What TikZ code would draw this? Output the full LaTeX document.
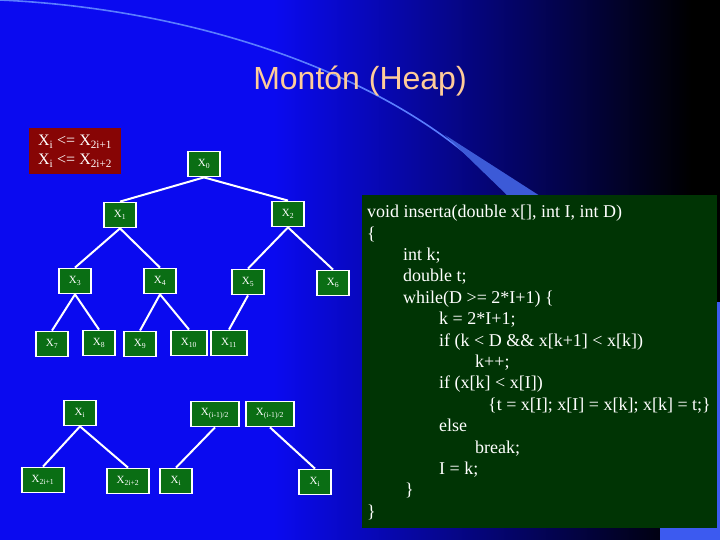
\documentclass[tikz,border=0pt]{standalone}
\usepackage{fontspec}
\setmainfont{Liberation Serif}
\newfontfamily\titlefont{Liberation Sans}
\definecolor{bgblue}{RGB}{10,10,240}
\definecolor{swoosh}{RGB}{90,125,255}
\definecolor{wedge}{RGB}{60,90,215}
\definecolor{heapgreen}{RGB}{10,110,20}
\definecolor{codegreen}{RGB}{0,52,4}
\definecolor{rulered}{RGB}{135,5,5}
\definecolor{titlepeach}{RGB}{255,204,153}
\definecolor{edgeblue}{RGB}{60,90,240}
\pgfdeclarehorizontalshading{slidebg}{100bp}{color(0bp)=(bgblue); color(25bp)=(bgblue); color(44bp)=(bgblue); color(73bp)=(black); color(100bp)=(black)}
\tikzset{
  heapnode/.style={draw=white,line width=1.8pt,fill=heapgreen,text=white,
    minimum width=32pt,minimum height=25pt,inner xsep=10pt,inner ysep=2pt,
    font=\fontsize{11}{13}\selectfont},
  heapedge/.style={white,line width=2pt}
}
\begin{document}
\begin{tikzpicture}[x=1pt,y=-1pt]
        \useasboundingbox (0,0) rectangle (720,540);
        \fill[shading=slidebg] (0,0) rectangle (720,540);
        \fill[edgeblue] (660,302) rectangle (720,540);
        \draw[swoosh,line width=1.6pt] (0,0) .. controls (220,10) and (420,90) .. (510,197);
        \fill[wedge] (445,135) -- (540,196) -- (508,196) -- cycle;

        \node[text=titlepeach,font=\titlefont\fontsize{32}{38}\selectfont] (title) at (360,81) {Montón (Heap)};

        \node[fill=rulered,text=white,minimum width=92pt,minimum height=46pt,align=left,
              font=\fontsize{16}{19}\selectfont] (rule) at (75,151)
              {X\textsubscript{i} <= X\textsubscript{2i+1}\\X\textsubscript{i} <= X\textsubscript{2i+2}};

        \node[heapnode] (x0) at (204,164) {X\textsubscript{0}};
        \node[heapnode] (x1) at (120,215) {X\textsubscript{1}};
        \node[heapnode] (x2) at (288,214) {X\textsubscript{2}};

        \node[heapnode] (x3) at (75,281) {X\textsubscript{3}};
        \node[heapnode] (x4) at (160,281) {X\textsubscript{4}};
        \node[heapnode] (x5) at (248,282) {X\textsubscript{5}};
        \node[heapnode] (x6) at (333,283) {X\textsubscript{6}};

        \node[heapnode] (x7) at (52,344) {X\textsubscript{7}};
        \node[heapnode] (x8) at (99,343) {X\textsubscript{8}};
        \node[heapnode] (x9) at (140,344) {X\textsubscript{9}};
        \node[heapnode] (x10) at (189,343) {X\textsubscript{10}};
        \node[heapnode] (x11) at (229,343) {X\textsubscript{11}};

        \node[heapnode] (xi) at (80,413) {X\textsubscript{i}};
        \node[heapnode] (xleft) at (43,480) {X\textsubscript{2i+1}};
        \node[heapnode] (xright) at (128,481) {X\textsubscript{2i+2}};

        \node[heapnode] (xpa) at (215,414) {X\textsubscript{(i-1)/2}};
        \node[heapnode] (xpb) at (270,414) {X\textsubscript{(i-1)/2}};
        \node[heapnode] (xca) at (176,481) {X\textsubscript{i}};
        \node[heapnode] (xcb) at (315,482) {X\textsubscript{i}};

        \draw[heapedge] (x0.south) -- (x1.north);
        \draw[heapedge] (x0.south) -- (x2.north);
        \draw[heapedge] (x1.south) -- (x3.north);
        \draw[heapedge] (x1.south) -- (x4.north);
        \draw[heapedge] (x2.south) -- (x5.north);
        \draw[heapedge] (x2.south) -- (x6.north);
        \draw[heapedge] (x3.south) -- (x7.north);
        \draw[heapedge] (x3.south) -- (x8.north);
        \draw[heapedge] (x4.south) -- (x9.north);
        \draw[heapedge] (x4.south) -- (x10.north);
        \draw[heapedge] (x5.south) -- (x11.north);
        \draw[heapedge] (xi.south) -- (xleft.north);
        \draw[heapedge] (xi.south) -- (xright.north);
        \draw[heapedge] (xpa.south) -- (xca.north);
        \draw[heapedge] (xpb.south) -- (xcb.north);

        \fill[codegreen] (362,195) rectangle (717,528);
        \node[anchor=north west,inner sep=0pt,align=left,text=white,
              font=\fontsize{18}{21.4}\selectfont] (code) at (367,205)
              {void inserta(double x[], int I, int D)\\
               \{\\
               \hspace*{36pt}int k;\\
               \hspace*{36pt}double t;\\
               \hspace*{36pt}while(D >= 2*I+1) \{\\
               \hspace*{72pt}k = 2*I+1;\\
               \hspace*{72pt}if (k < D \&\& x[k+1] < x[k])\\
               \hspace*{108pt}k++;\\
               \hspace*{72pt}if (x[k] < x[I])\\
               \hspace*{121pt}\{t = x[I]; x[I] = x[k]; x[k] = t;\}\\
               \hspace*{72pt}else\\
               \hspace*{108pt}break;\\
               \hspace*{72pt}I = k;\\
               \hspace*{38pt}\}\\
               \}};
\end{tikzpicture}
\end{document}
